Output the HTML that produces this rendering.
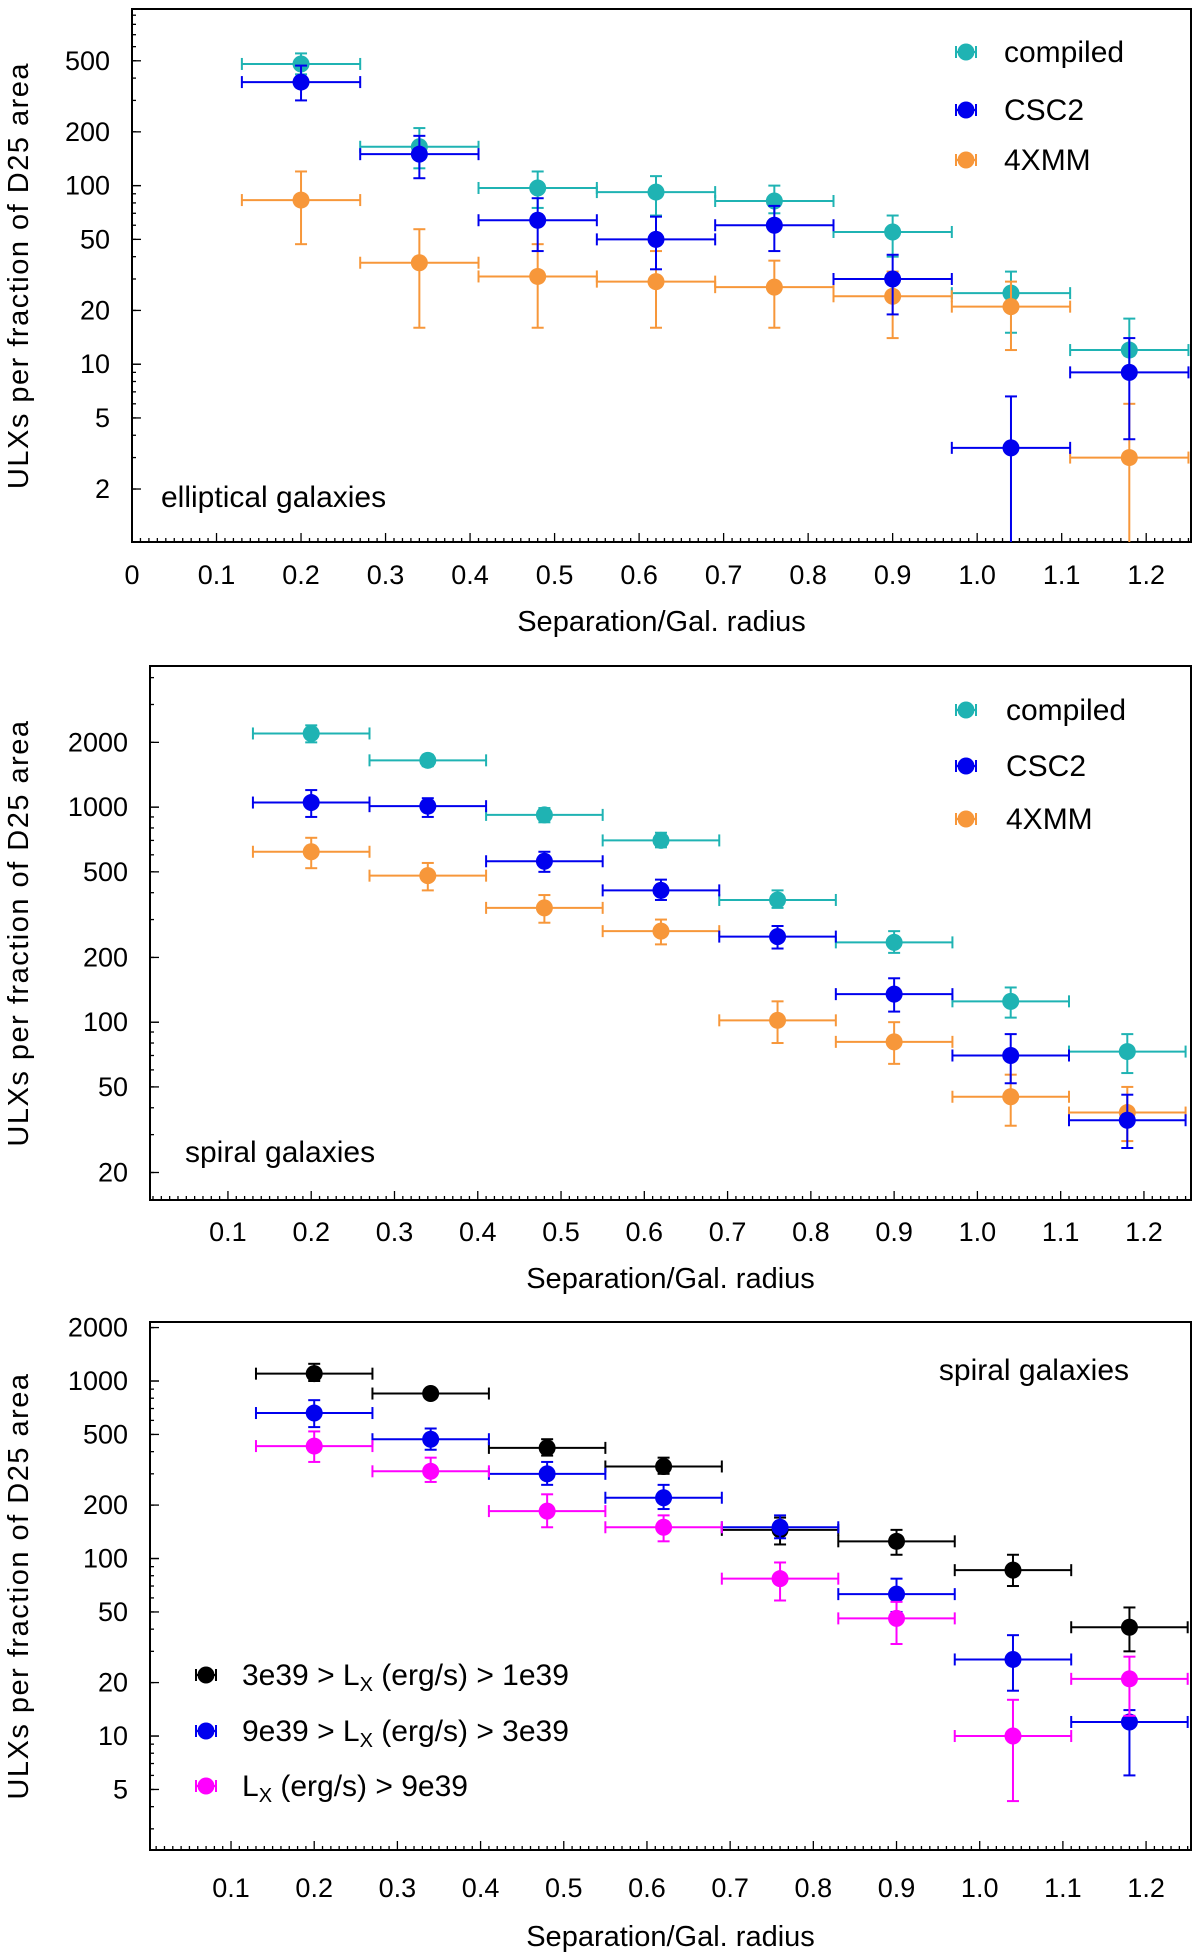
<!DOCTYPE html>
<html><head><meta charset="utf-8">
<style>
body{margin:0;background:#fff;}
svg{display:block;font-family:"Liberation Sans","DejaVu Sans",sans-serif;}
</style></head>
<body>
<svg id="fig" width="1200" height="1958" viewBox="0 0 1200 1958" xmlns="http://www.w3.org/2000/svg"></svg>
<script>
// shared x bins
const xCenters = [0.2,0.34,0.48,0.62,0.76,0.9,1.04,1.18];
const xHalfWidth = 0.07;
const xTickLabels = ["0","0.1","0.2","0.3","0.4","0.5","0.6","0.7","0.8","0.9","1.0","1.1","1.2"];

// Panel 1: elliptical
const p1CompiledVal = [480,165,97,92,82,55,25,12];
const p1CompiledLo  = [420,125,75,68,70,40,15,8.5];
const p1CompiledHi  = [550,210,120,113,100,68,33,18];
const p1CscVal = [380,150,64,50,60,30,3.4,9];
const p1CscLo  = [300,110,43,34,43,19,1,3.8];
const p1CscHi  = [470,190,85,67,77,41,6.6,14];
const p1XmmVal = [83,37,31,29,27,24,21,3];
const p1XmmLo  = [47,16,16,16,16,14,12,1];
const p1XmmHi  = [120,57,47,43,38,33,29,6];
const p1YTicks = [2,5,10,20,50,100,200,500];

// Panel 2: spiral
const p2CompiledVal = [2200,1650,920,700,370,235,125,73];
const p2CompiledLo  = [2000,1550,850,650,340,210,105,58];
const p2CompiledHi  = [2400,1750,990,760,410,265,145,88];
const p2CscVal = [1050,1010,560,410,250,135,70,35];
const p2CscLo  = [900,900,500,370,220,112,52,26];
const p2CscHi  = [1200,1100,620,460,280,160,88,46];
const p2XmmVal = [620,480,340,265,102,81,45,38];
const p2XmmLo  = [520,410,290,230,80,64,33,28];
const p2XmmHi  = [720,550,390,300,125,100,57,50];
const p2YTicks = [20,50,100,200,500,1000,2000];

// Panel 3: luminosity bins
const p3LowVal = [1100,850,420,330,145,125,86,41];
const p3LowLo  = [1000,800,380,300,120,105,70,30];
const p3LowHi  = [1250,900,470,370,170,145,105,53];
const p3MidVal = [660,470,300,220,150,63,27,12];
const p3MidLo  = [550,410,260,190,130,50,18,6];
const p3MidHi  = [780,540,350,260,175,77,37,14];
const p3HighVal = [430,310,185,150,77,46,10,21];
const p3HighLo  = [350,270,150,125,58,33,4.3,13];
const p3HighHi  = [520,370,230,175,95,57,16,28];
const p3YTicks = [5,10,20,50,100,200,500,1000,2000];

const NS="http://www.w3.org/2000/svg";
const svg=document.getElementById('fig');
function mk(tag,attrs,parent){const e=document.createElementNS(NS,tag);for(const k in attrs)e.setAttribute(k,attrs[k]);(parent||svg).appendChild(e);return e;}

function panel(cfg){
  const g=mk('g',{});
  
  
  const L=cfg.left,R=cfg.right,T=cfg.top,B=cfg.bottom;
  const xs=v=>L+(v-cfg.xmin)/(cfg.xmax-cfg.xmin)*(R-L);
  const lmin=Math.log10(cfg.ymin),lmax=Math.log10(cfg.ymax);
  const ys=v=>B-(Math.log10(v)-lmin)/(lmax-lmin)*(B-T);
  const frame=mk('rect',{x:L,y:T,width:R-L,height:B-T,fill:'none',stroke:'#000','stroke-width':2},g);
  
  
  for(let i=0;i<=126;i++){const v=i/100;if(v<cfg.xmin-1e-9||v>cfg.xmax)continue;const major=i%10===0;
    mk('line',{x1:xs(v),x2:xs(v),y1:B,y2:B-(major?9:4),stroke:'#000','stroke-width':1.3},g);}
  xTickLabels.forEach((s,i)=>{const v=i/10;if(v<cfg.xmin-1e-9)return;
    const t=mk('text',{x:xs(v),y:cfg.xLabY,'font-size':27,'text-anchor':'middle'},g);t.textContent=s;
    
    });
  for(let d=-1;d<5;d++){for(let m=1;m<10;m++){const v=m*Math.pow(10,d);if(v<cfg.ymin||v>cfg.ymax)continue;
    mk('line',{x1:L,x2:L+(m===1?9:4),y1:ys(v),y2:ys(v),stroke:'#000','stroke-width':1.3},g);}}
  cfg.yTicks.forEach(v=>{mk('line',{x1:L,x2:L+9,y1:ys(v),y2:ys(v),stroke:'#000','stroke-width':1.3},g);
    const t=mk('text',{x:L-22,y:ys(v)+9,'font-size':27,'text-anchor':'end'},g);t.textContent=String(v);
    
    });
  const xl=mk('text',{x:(L+R)/2,y:cfg.xTitleY,'font-size':29,'text-anchor':'middle'},g);xl.textContent='Separation/Gal. radius';
  
  
  const cy=(T+B)/2;
  const yl=mk('text',{x:28,y:cy,'font-size':29,'text-anchor':'middle',transform:`rotate(-90 28 ${cy})`,'letter-spacing':'1.5'},g);yl.textContent='ULXs per fraction of D25 area';
  
  
  cfg.series.forEach(s=>{
    const sg=mk('g',{},g);
    
    
    xCenters.forEach((xc,i)=>{
      const X=xs(xc),Y=ys(s.val[i]);const x1=xs(xc-xHalfWidth),x2=xs(xc+xHalfWidth);
      const ylo=Math.min(B,ys(s.lo[i])),yhi=ys(s.hi[i]);
      mk('line',{x1:x1,x2:x2,y1:Y,y2:Y,stroke:s.c,'stroke-width':2},sg);
      mk('line',{x1:x1,x2:x1,y1:Y-6,y2:Y+6,stroke:s.c,'stroke-width':2},sg);
      mk('line',{x1:x2,x2:x2,y1:Y-6,y2:Y+6,stroke:s.c,'stroke-width':2},sg);
      mk('line',{x1:X,x2:X,y1:yhi,y2:ylo,stroke:s.c,'stroke-width':2},sg);
      mk('line',{x1:X-6,x2:X+6,y1:yhi,y2:yhi,stroke:s.c,'stroke-width':2},sg);
      if(ys(s.lo[i])<B)mk('line',{x1:X-6,x2:X+6,y1:ylo,y2:ylo,stroke:s.c,'stroke-width':2},sg);
      const c=mk('circle',{cx:X,cy:Y,r:8.5,fill:s.c},sg);
      
      
    });
  });
  cfg.legend.forEach(l=>{
    const lg=mk('g',{},g);
    
    
    mk('line',{x1:l.mx-10,x2:l.mx+10,y1:l.y,y2:l.y,stroke:l.c,'stroke-width':2},lg);
    mk('line',{x1:l.mx-10,x2:l.mx-10,y1:l.y-6,y2:l.y+6,stroke:l.c,'stroke-width':2},lg);
    mk('line',{x1:l.mx+10,x2:l.mx+10,y1:l.y-6,y2:l.y+6,stroke:l.c,'stroke-width':2},lg);
    mk('circle',{cx:l.mx,cy:l.y,r:8.5,fill:l.c},lg);
    const t=mk('text',{x:l.tx,y:l.y+10,'font-size':30},lg);t.innerHTML=l.text;
  });
  const a=mk('text',{x:cfg.ann.x,y:cfg.ann.y,'font-size':30,'text-anchor':cfg.ann.anchor},g);a.textContent=cfg.ann.text;
  
  
}
const TEAL='#1fb3b3',BLUE='#0000ee',ORANGE='#f7973a',MAG='#ff00ff';
panel({name:'elliptical-panel',left:132,right:1191,top:9,bottom:542,xmin:0,xmax:1.253,ymin:1.01,ymax:975,
  yTicks:p1YTicks,xLabY:584,xTitleY:631,
  series:[{name:'series-compiled',c:TEAL,val:p1CompiledVal,lo:p1CompiledLo,hi:p1CompiledHi},
          {name:'series-4xmm',c:ORANGE,val:p1XmmVal,lo:p1XmmLo,hi:p1XmmHi},
          {name:'series-csc2',c:BLUE,val:p1CscVal,lo:p1CscLo,hi:p1CscHi}],
  legend:[{mx:966,tx:1004,y:52,c:TEAL,text:'compiled'},{mx:966,tx:1004,y:110,c:BLUE,text:'CSC2'},{mx:966,tx:1004,y:160,c:ORANGE,text:'4XMM'}],
  ann:{x:161,y:507,text:'elliptical galaxies',anchor:'start'}});
panel({name:'spiral-panel',left:150,right:1191,top:666,bottom:1200,xmin:0.0064,xmax:1.2565,ymin:14.9,ymax:4530,
  yTicks:p2YTicks,xLabY:1241,xTitleY:1288,
  series:[{name:'series-compiled',c:TEAL,val:p2CompiledVal,lo:p2CompiledLo,hi:p2CompiledHi},
          {name:'series-4xmm',c:ORANGE,val:p2XmmVal,lo:p2XmmLo,hi:p2XmmHi},
          {name:'series-csc2',c:BLUE,val:p2CscVal,lo:p2CscLo,hi:p2CscHi}],
  legend:[{mx:966,tx:1006,y:710,c:TEAL,text:'compiled'},{mx:966,tx:1006,y:766,c:BLUE,text:'CSC2'},{mx:966,tx:1006,y:819,c:ORANGE,text:'4XMM'}],
  ann:{x:185,y:1162,text:'spiral galaxies',anchor:'start'}});
panel({name:'luminosity-panel',left:150,right:1191,top:1322,bottom:1850,xmin:0.0026,xmax:1.254,ymin:2.28,ymax:2150,
  yTicks:p3YTicks,xLabY:1897,xTitleY:1946,
  series:[{name:'series-low-lx',c:'#000',val:p3LowVal,lo:p3LowLo,hi:p3LowHi},
          {name:'series-mid-lx',c:BLUE,val:p3MidVal,lo:p3MidLo,hi:p3MidHi},
          {name:'series-high-lx',c:MAG,val:p3HighVal,lo:p3HighLo,hi:p3HighHi}],
  legend:[{mx:206,tx:242,y:1675,c:'#000',text:'3e39 &gt; L<tspan font-size="20" dy="6">X</tspan><tspan dy="-6"> (erg/s) &gt; 1e39</tspan>'},
          {mx:206,tx:242,y:1731,c:BLUE,text:'9e39 &gt; L<tspan font-size="20" dy="6">X</tspan><tspan dy="-6"> (erg/s) &gt; 3e39</tspan>'},
          {mx:206,tx:242,y:1786,c:MAG,text:'L<tspan font-size="20" dy="6">X</tspan><tspan dy="-6"> (erg/s) &gt; 9e39</tspan>'}],
  ann:{x:1129,y:1380,text:'spiral galaxies',anchor:'end'}});
</script>
</body></html>
